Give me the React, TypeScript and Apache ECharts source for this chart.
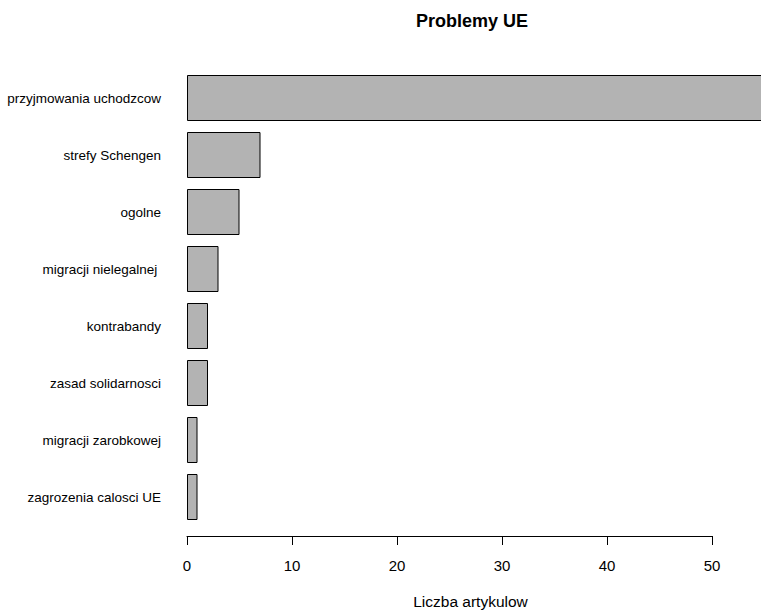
import React, { useEffect, useRef } from "react";
import * as echarts from "echarts";

const categories = [
  "przyjmowania uchodzcow",
  "strefy Schengen",
  "ogolne",
  "migracji nielegalnej ",
  "kontrabandy",
  "zasad solidarnosci",
  "migracji zarobkowej",
  "zagrozenia calosci UE",
];
const counts = [60, 7, 5, 3, 2, 2, 1, 1];
const xTicks = [0, 10, 20, 30, 40, 50];

const FONT = "'Liberation Sans', Arial, Helvetica, sans-serif";

export default function App() {
  const ref = useRef<HTMLDivElement>(null);
  useEffect(() => {
    if (!ref.current) return;
    const chart = echarts.init(ref.current, null, { renderer: "svg" });
    chart.setOption({
      animation: false,
      backgroundColor: "#ffffff",
      textStyle: { fontFamily: FONT },
      title: {
        text: "Problemy UE",
        left: 467,
        top: 7,
        textAlign: "center",
        textStyle: { fontFamily: FONT, fontWeight: "bold", fontSize: 18, color: "#000" },
      },
      grid: {
        left: 187,
        right: 49,
        top: 69.5,
        bottom: 85.5,
        containLabel: false,
        outerBoundsMode: "none",
      },
      xAxis: {
        type: "value",
        min: xTicks[0],
        max: xTicks[xTicks.length - 1],
        interval: 10,
        offset: 10.5,
        name: "Liczba artykulow",
        nameLocation: "middle",
        nameGap: 57,
        nameTextStyle: {
          fontFamily: FONT,
          fontSize: 15.5,
          color: "#000",
          padding: [0, 0, 0, 42],
        },
        axisLine: { show: true, lineStyle: { color: "#000", width: 1 } },
        axisTick: { show: true, length: 9, lineStyle: { color: "#000" } },
        axisLabel: { margin: 22, fontFamily: FONT, fontSize: 15, color: "#000" },
        splitLine: { show: false },
      },
      yAxis: {
        type: "category",
        inverse: true,
        data: categories,
        axisLine: { show: false },
        axisTick: { show: false },
        axisLabel: { margin: 26, fontFamily: FONT, fontSize: 13.5, color: "#000" },
      },
      series: [
        {
          type: "bar",
          data: counts,
          barWidth: 46,
          clip: false,
          itemStyle: { color: "#b3b3b3", borderColor: "#000", borderWidth: 1 },
        },
      ],
    });
    return () => chart.dispose();
  }, []);
  return (
    <div
      ref={ref}
      style={{ position: "absolute", left: 0, top: 0, width: 761, height: 611, overflow: "hidden" }}
    />
  );
}
